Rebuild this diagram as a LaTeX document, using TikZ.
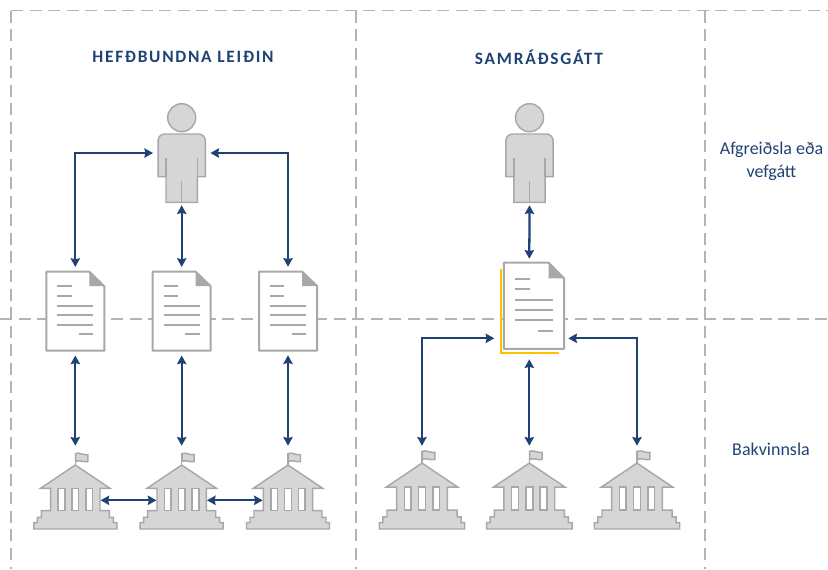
\documentclass[tikz,border=0pt]{standalone}
\usepackage{fontspec}
\setmainfont{Carlito}
\newfontfamily\titlefont[LetterSpace=10]{Carlito}
\usetikzlibrary{arrows.meta,positioning,calc}
\definecolor{navy}{HTML}{1F4275}
\definecolor{iconfill}{HTML}{D6D6D6}
\definecolor{iconline}{HTML}{A8A8A8}
\definecolor{gridgray}{HTML}{B4B4B4}
\definecolor{gold}{HTML}{FFC000}

\begin{document}
\begin{tikzpicture}[
        x=0.75pt, y=-0.75pt,
        % Dashed grid lines
        gridline/.style={draw=gridgray, line width=1.1pt, dash pattern=on 9pt off 4.9pt},
        % Connectors
        link/.style={draw=navy, line width=1.7pt, {Stealth[length=6.5pt,width=7pt,inset=0.8pt]}-{Stealth[length=6.5pt,width=7pt,inset=0.8pt]}},
        % Texts
        heading/.style={font=\titlefont\bfseries\fontsize{13}{15}\selectfont, text=navy},
        rowlabel/.style={font=\fontsize{13.5}{17.2}\selectfont, text=navy, align=center},
        % Invisible boxes that the connectors end on
        userbox/.style={inner sep=0pt, minimum width=42.6pt, minimum height=78pt},
        docbox/.style={inner sep=0pt, minimum width=49.5pt, minimum height=66pt},
        bigdocbox/.style={inner sep=0pt, minimum width=52pt, minimum height=75pt},
        bankbox/.style={inner sep=0pt, minimum width=37.5pt, minimum height=81.5pt},
        % Icons
        icon/.style={draw=iconline, fill=iconfill, line width=1.1pt},
        person/.pic={
            \draw[icon] (0,-35.3) circle (14);
            \draw[icon] (-23.6,23.7) [rounded corners=5pt] -- (-23.6,-19) -- (23.6,-19) [sharp corners] -- (23.6,23.7)
                -- (15.7,23.7) -- (15.7,49.3) -- (-15.7,49.3) -- (-15.7,23.7) -- cycle;
            \draw[iconline, line width=1.1pt] (-15.7,5.3) -- (-15.7,23.7) (15.7,5.3) -- (15.7,23.7) (0,28) -- (0,49.3);
        },
        paper/.pic={
            \draw[icon, fill=white, line width=1.5pt, line join=round] (-29,-39.5) -- (14,-39.5) -- (29,-25) -- (29,39.5) -- (-29,39.5) -- cycle;
            \fill[iconline] (14,-39.5) -- (29,-25) -- (14,-25) -- cycle;
            \draw[iconline, line width=1.5pt]
                (-18.2,-24.9) -- (-3.8,-24.9)
                (-18.2,-15.2) -- (-3.8,-15.2)
                (-18.2,-5.5) -- (17.8,-5.5)
                (-18.2,3.8) -- (17.8,3.8)
                (-18.2,13.5) -- (17.8,13.5)
                (3.5,22.8) -- (17.8,22.8);
        },
        bank/.pic={
            \draw[icon] (0,-64) -- (34.7,-40.7) -- (24.7,-40.7) -- (24.7,-18.3) -- (34,-18.3) -- (34,-11.7) -- (38,-11.7) -- (38,-6.3)
                -- (41.5,-6.3) -- (41.5,0) -- (-41.5,0) -- (-41.5,-6.3) -- (-38,-6.3) -- (-38,-11.7) -- (-34,-11.7) -- (-34,-18.3)
                -- (-24.7,-18.3) -- (-24.7,-40.7) -- (-34.7,-40.7) -- cycle;
            \draw[icon, fill=white] (-17.2,-40.7) rectangle (-10.5,-18.3);
            \draw[icon, fill=white] (-3.4,-40.7) rectangle (3.4,-18.3);
            \draw[icon, fill=white] (10.5,-40.7) rectangle (17.2,-18.3);
            \draw[iconline, line width=1.1pt] (0,-64) -- (0,-76);
            \draw[icon] (0.4,-75.5) .. controls (4,-77) and (8,-73.5) .. (12.5,-74.5) -- (12.5,-67.5) .. controls (8,-66.5) and (4,-69.5) .. (0.4,-67.5) -- cycle;
        }
    ]
        \useasboundingbox (0,0) rectangle (828,569);

        % --- GRID ---
        \draw[gridline] (11,10.5) -- (828,10.5);
        \draw[gridline] (0,319) -- (828,319);
        \draw[gridline] (11,10.5) -- (11,569);
        \draw[gridline] (356,10.5) -- (356,569);
        \draw[gridline] (705,10.5) -- (705,569);

        % --- TEXTS ---
        \node[heading] (left title) at (183,57) {HEFÐBUNDNA LEIÐIN};
        \node[heading] (right title) at (539,57) {SAMRÁÐSGÁTT};
        \node[rowlabel] (front label) at (771.5,161) {Afgreiðsla eða\\vefgátt};
        \node[rowlabel] (back label) at (771,449) {Bakvinnsla};

        % --- ICONS ---
        % Left column
        \node[userbox] (user1) at (181.7,153) {};
        \pic at (user1) {person};
        \node[docbox] (doc1) at (75.3,311.2) {};
        \node[docbox] (doc2) at (181.7,311.2) {};
        \node[docbox] (doc3) at (288,311) {};
        \pic at (doc1) {paper};
        \pic at (doc2) {paper};
        \pic at (doc3) {paper};
        \node[bankbox] (bank1) at (75.3,500.3) {};
        \node[bankbox] (bank2) at (181.7,500.3) {};
        \node[bankbox] (bank3) at (288,500.3) {};
        \pic at (75.3,529) {bank};
        \pic at (181.7,529) {bank};
        \pic at (288,529) {bank};

        % Right column
        \node[userbox] (user2) at (529.5,153) {};
        \pic at (user2) {person};
        \node[bigdocbox] (doc4) at (529.3,309) {};
        \pic[xscale=1.04, yscale=1.09] at (534,305.7) {paper};
        \draw[gold, line width=1.5pt] (500.7,269) -- (500.7,352.7) -- (559,352.7);
        \coordinate (doc4 left) at (494.3,338.3);
        \coordinate (doc4 right) at (568.3,338.3);
        \node[bankbox] (bank4) at (422,500.3) {};
        \node[bankbox] (bank5) at (529.3,500.3) {};
        \node[bankbox] (bank6) at (637,500.3) {};
        \pic[scale=1.03] at (422,529) {bank};
        \pic[scale=1.03] at (529.3,529) {bank};
        \pic[scale=1.03] at (637,529) {bank};

        % --- CONNECTORS ---
        \draw[link] (doc1.north) |- (user1.west);
        \draw[link] (doc3.north) |- (user1.east);
        \draw[link] (user1.south) -- (doc2.north);
        \draw[link] (doc1.south) -- (bank1.north);
        \draw[link] (doc2.south) -- (bank2.north);
        \draw[link] (doc3.south) -- (bank3.north);
        \draw[link] (bank1.east) -- (bank2.west);
        \draw[link] (bank2.east) -- (bank3.west);

        \draw[link] (user2.south) -- (doc4.north);
        \draw[link] (bank4.north) |- (doc4 left);
        \draw[link] (bank6.north) |- (doc4 right);
        \draw[link] (doc4.south) -- (bank5.north);

    \end{tikzpicture}
\end{document}
